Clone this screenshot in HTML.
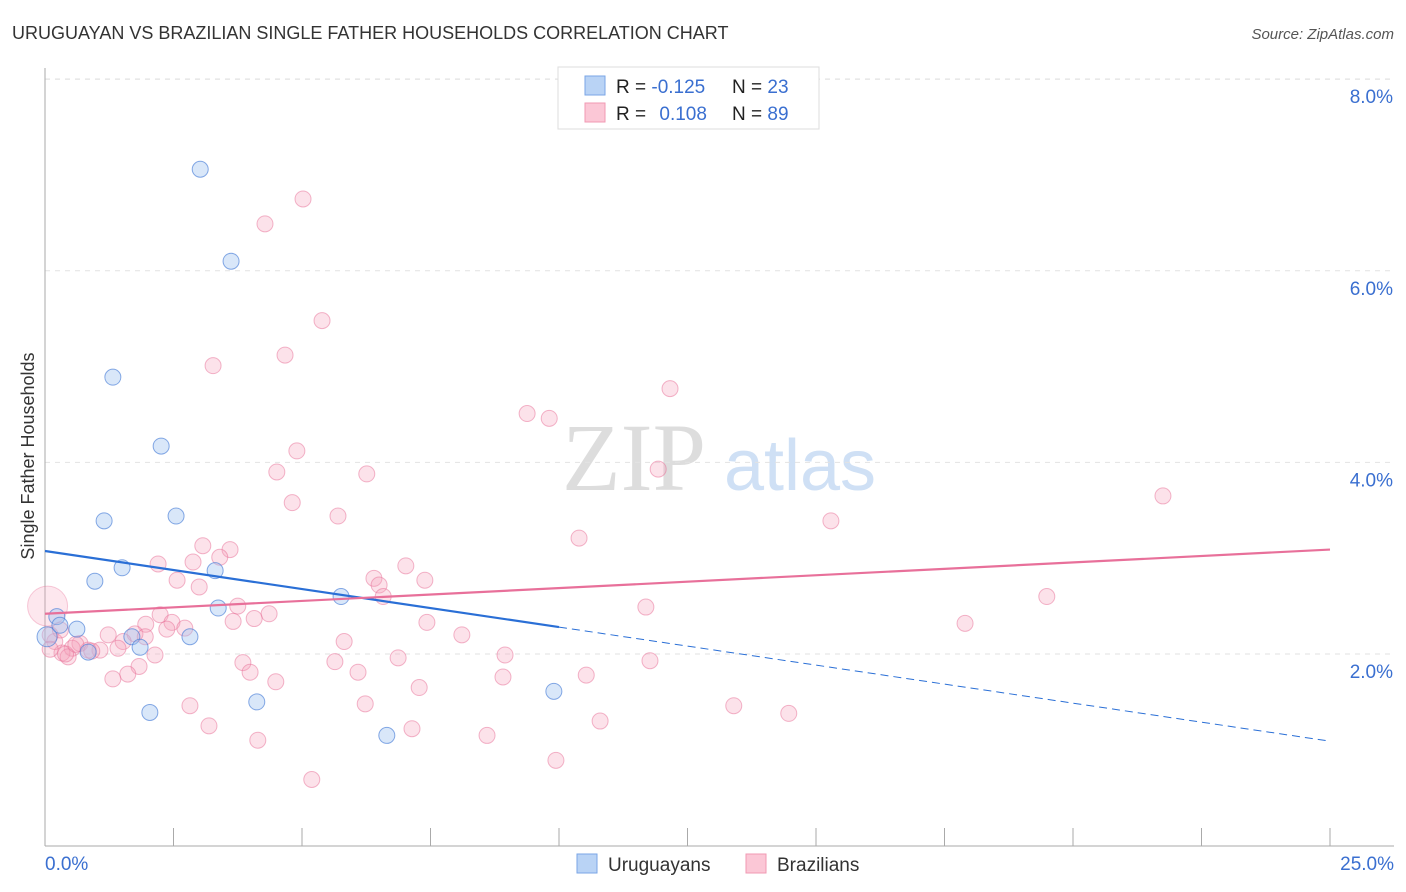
<!DOCTYPE html>
<html><head><meta charset="utf-8"><style>
body{margin:0;background:#fff;font-family:"Liberation Sans",sans-serif}
</style></head><body>
<svg id="chart" width="1406" height="892" xmlns="http://www.w3.org/2000/svg" style="display:block">
<text x="12" y="39" font-size="18" fill="#333">URUGUAYAN VS BRAZILIAN SINGLE FATHER HOUSEHOLDS CORRELATION CHART</text>
<text x="1394" y="39" font-size="15" fill="#555" text-anchor="end" font-style="italic">Source: ZipAtlas.com</text>
<g>
<text x="634" y="490" font-size="96" fill="#ddd" text-anchor="middle" font-family="Liberation Serif,serif">ZIP</text>
<text x="800" y="490" font-size="72" fill="#cfe0f5" text-anchor="middle">atlas</text>
</g>
<g id="grid"></g><g id="axes"></g><g id="marks"></g><g id="trends"></g>
<text transform="translate(34,456) rotate(-90)" font-size="18" fill="#333" text-anchor="middle">Single Father Households</text>
<g>
<rect x="558" y="67" width="261" height="62" fill="#fff" stroke="#ddd"/>
<rect x="585" y="76" width="20" height="19" fill="#b9d3f5" stroke="#7aa6e6"/>
<rect x="585" y="103" width="20" height="19" fill="#fbc7d6" stroke="#f09ab3"/>
<text x="616" y="93" font-size="19" fill="#222">R = <tspan fill="#3a6fd0">-0.125</tspan></text>
<text x="732" y="93" font-size="19" fill="#222">N = <tspan fill="#3a6fd0">23</tspan></text>
<text x="616" y="120" font-size="19" fill="#222">R = <tspan fill="#3a6fd0" dx="8">0.108</tspan></text>
<text x="732" y="120" font-size="19" fill="#222">N = <tspan fill="#3a6fd0">89</tspan></text>
</g>
<g>
<rect x="577" y="854" width="20" height="19" fill="#b9d3f5" stroke="#7aa6e6"/>
<text x="608" y="871" font-size="19" fill="#333">Uruguayans</text>
<rect x="746" y="854" width="20" height="19" fill="#fbc7d6" stroke="#f09ab3"/>
<text x="777" y="871" font-size="19" fill="#333">Brazilians</text>
</g>
</svg>
<script>
const xTicks=[0,2.5,5,7.5,10,12.5,15,17.5,20,22.5,25];
const yTicks=[2,4,6,8];
const yTickLabels=["2.0%","4.0%","6.0%","8.0%"];
const uruX=[3.02,3.62,1.32,2.26,1.15,2.55,1.50,0.97,3.31,3.37,2.82,0.23,0.62,0.04,0.84,1.69,1.85,5.76,2.04,4.12,6.65,9.90,0.29];
const uruY=[7.06,6.10,4.89,4.17,3.39,3.44,2.90,2.76,2.87,2.48,2.18,2.39,2.26,2.18,2.02,2.18,2.07,2.60,1.39,1.50,1.15,1.61,2.30];
const uruR=[8,8,8,8,8,8,8,8,8,8,8,8,8,10,8,8,8,8,8,8,8,8,8];
const braX=[5.02,4.28,5.39,4.67,3.27,12.16,9.38,9.81,4.90,4.51,6.26,11.93,21.75,4.81,5.70,15.29,10.39,3.07,3.60,2.20,2.88,3.40,2.57,3.00,7.02,7.39,6.40,6.50,6.58,19.49,11.69,3.75,4.36,4.07,3.66,2.24,1.96,2.47,2.72,2.37,17.90,7.43,8.11,5.82,1.75,1.23,1.52,1.95,1.42,1.07,0.68,0.84,0.91,0.53,0.33,0.45,0.19,8.95,6.87,2.14,3.85,5.64,11.77,1.83,3.99,6.09,8.91,10.53,1.61,1.32,4.49,7.28,6.23,2.82,13.40,14.47,10.80,3.19,7.14,8.60,4.14,9.94,5.19,0.05,0.1,0.3,0.1,0.4,0.6];
const braY=[6.75,6.49,5.48,5.12,5.01,4.77,4.51,4.46,4.12,3.90,3.88,3.93,3.65,3.58,3.44,3.39,3.21,3.13,3.09,2.94,2.96,3.01,2.77,2.70,2.92,2.77,2.79,2.72,2.60,2.60,2.49,2.50,2.42,2.37,2.34,2.41,2.31,2.33,2.27,2.26,2.32,2.33,2.20,2.13,2.21,2.20,2.13,2.18,2.06,2.04,2.11,2.04,2.03,2.06,2.01,1.97,2.13,1.99,1.96,1.99,1.91,1.92,1.93,1.87,1.81,1.81,1.76,1.78,1.79,1.74,1.71,1.65,1.48,1.46,1.46,1.38,1.30,1.25,1.22,1.15,1.10,0.89,0.69,2.50,2.2,2.25,2.05,2.0,2.1];
const braR=braX.map((v,i)=>i===83?20:8);
const uruTrend=[3.075,1.09];
const braTrend=[2.42,3.09];
const X=v=>45+v*51.4, Y=v=>845.6-v*95.8;
const NS="http://www.w3.org/2000/svg";
function mk(t,a,p){const e=document.createElementNS(NS,t);for(const k in a)e.setAttribute(k,a[k]);p.appendChild(e);return e;}
const grid=document.getElementById('grid'),axes=document.getElementById('axes'),marks=document.getElementById('marks'),trends=document.getElementById('trends');
yTicks.forEach((t,i)=>{const l=mk('line',{x1:45,x2:1394,y1:Y(t),y2:Y(t),stroke:'#e2e2e2','stroke-dasharray':'5,5'},grid);


const tx=mk('text',{x:1393,y:Y(t)+24,'font-size':19,fill:'#3a6fd0','text-anchor':'end'},axes);tx.textContent=yTickLabels[i];

});
const gl=mk('line',{x1:45,x2:1394,y1:79,y2:79,stroke:'#e2e2e2','stroke-dasharray':'5,5'},grid);


const ya=mk('line',{x1:45,x2:45,y1:68,y2:846,stroke:'#aaa'},axes);


const xa=mk('line',{x1:45,x2:1394,y1:846,y2:846,stroke:'#aaa'},axes);


xTicks.forEach(t=>{const l=mk('line',{x1:X(t),x2:X(t),y1:828,y2:846,stroke:'#aaa'},axes);

});
const x0=mk('text',{x:45,y:870,'font-size':19,fill:'#3a6fd0'},axes);x0.textContent='0.0%';


const x1=mk('text',{x:1394,y:870,'font-size':19,fill:'#3a6fd0','text-anchor':'end'},axes);x1.textContent='25.0%';


braX.forEach((v,i)=>{const big=braR[i]>10;const c=mk('circle',{cx:X(v),cy:Y(braY[i]),r:braR[i],fill:big?'rgba(246,160,187,0.25)':'rgba(246,160,187,0.3)',stroke:big?'rgba(232,110,150,0.35)':'rgba(232,110,150,0.5)','stroke-width':1},marks);

});
uruX.forEach((v,i)=>{const c=mk('circle',{cx:X(v),cy:Y(uruY[i]),r:uruR[i],fill:'rgba(160,195,240,0.4)',stroke:'rgba(70,125,215,0.65)','stroke-width':1},marks);

});
const uy=v=>uruTrend[0]+(uruTrend[1]-uruTrend[0])*v/25;
const t1=mk('line',{x1:X(0),y1:Y(uy(0)),x2:X(10),y2:Y(uy(10)),stroke:'#2a6fd6','stroke-width':2.2},trends);


const t2=mk('line',{x1:X(10),y1:Y(uy(10)),x2:X(25),y2:Y(uy(25)),stroke:'#2a6fd6','stroke-width':1,'stroke-dasharray':'8,5'},trends);


const t3=mk('line',{x1:X(0),y1:Y(braTrend[0]),x2:X(25),y2:Y(braTrend[1]),stroke:'#e8709a','stroke-width':2.2},trends);


</script>
</body></html>
